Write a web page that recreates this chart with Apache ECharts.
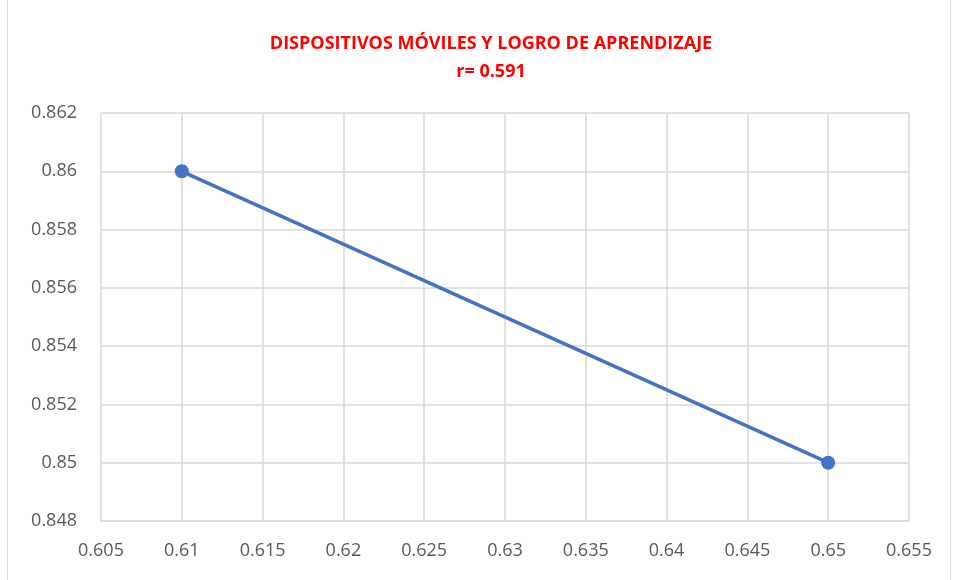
<!DOCTYPE html>
<html>
<head>
<meta charset="utf-8">
<script src="https://cdn.jsdelivr.net/npm/echarts@6/dist/echarts.min.js"></script>
<style>
  html, body { margin: 0; padding: 0; background: #fff; }
  #chart { width: 957px; height: 580px; }
</style>
</head>
<body>
<div id="chart"></div>
<script>
// datos
const dispositivos = [0.61, 0.65];
const logro = [0.86, 0.85];
const titulo = "DISPOSITIVOS MÓVILES Y LOGRO DE APRENDIZAJE";
const subtitulo = "r= 0.591";

const puntos = dispositivos.map((x, i) => [x, logro[i]]);

const chart = echarts.init(document.getElementById("chart"));
chart.setOption({
  animation: false,
  graphic: [
    {
      type: "rect",
      shape: { x: 7.5, y: -2, width: 943, height: 584 },
      style: { fill: "none", stroke: "#d9d9d9", lineWidth: 1 }
    }
  ],
  title: {
    text: titulo + "\n" + subtitulo,
    left: 486,
    textAlign: "center",
    top: 25,
    textStyle: {
      color: "#ff0000",
      fontSize: 18,
      fontWeight: "bold",
      fontFamily: "Open Sans",
      lineHeight: 28
    }
  },
  grid: { left: 101, right: 48, top: 113, bottom: 59 },
  xAxis: {
    type: "value",
    min: 0.605,
    max: 0.655,
    interval: 0.005,
    axisLine: { show: true, lineStyle: { color: "#d9d9d9", width: 1.5 } },
    axisTick: { show: false },
    splitLine: { show: true, lineStyle: { color: "#d9d9d9", width: 1.5 } },
    axisLabel: {
      color: "#595959",
      fontSize: 18,
      fontFamily: "Open Sans",
      margin: 21,
      formatter: v => String(+v.toFixed(3))
    }
  },
  yAxis: {
    type: "value",
    min: 0.848,
    max: 0.862,
    interval: 0.002,
    axisLine: { show: false },
    axisTick: { show: false },
    splitLine: { show: true, lineStyle: { color: "#d9d9d9", width: 1.5 } },
    axisLabel: {
      color: "#595959",
      fontSize: 18,
      fontFamily: "Open Sans",
      margin: 24,
      formatter: v => String(+v.toFixed(3))
    }
  },
  series: [
    {
      type: "line",
      data: puntos,
      symbol: "circle",
      symbolSize: 14,
      lineStyle: { color: "#4472c4", width: 3.5 },
      itemStyle: { color: "#4472c4" }
    }
  ]
});
</script>
</body>
</html>
